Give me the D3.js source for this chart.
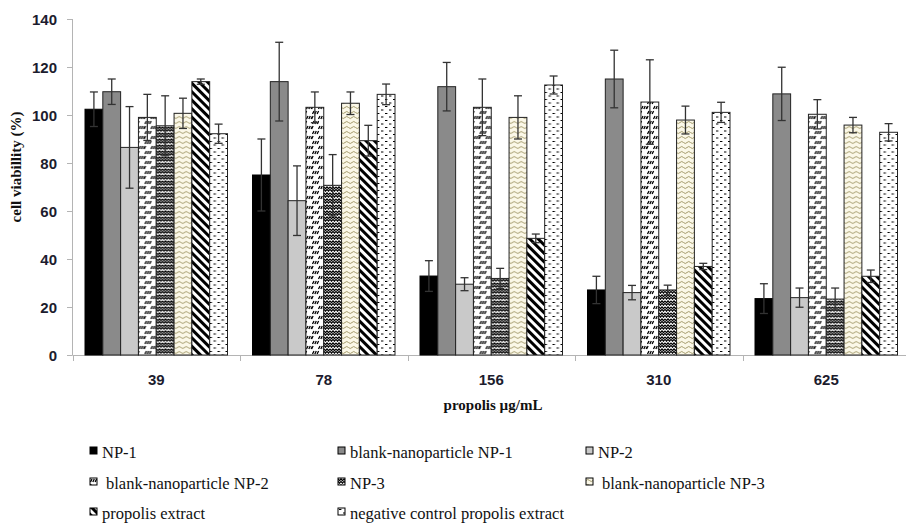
<!DOCTYPE html>
<meta charset="utf-8">
<style>
body { margin: 0; background: #fff; }
svg { display: block; }
.ytick { font: bold 15px "Liberation Sans", Arial, sans-serif; fill: #1c1c2e; }
.xtick { font: bold 15px "Liberation Sans", Arial, sans-serif; fill: #1c1c2e; }
.title { font: bold 15px "Liberation Serif", "Times New Roman", serif; fill: #111; }
.legend { font: 16.5px "Liberation Serif", "Times New Roman", serif; fill: #111; }
</style>
<body>
<script src="https://d3js.org/d3.v7.min.js"></script>
<script>
// doses on the x axis
var doses = ["39", "78", "156", "310", "625"];
var seriesNames = ["NP-1", "blank-nanoparticle NP-1", "NP-2", "blank-nanoparticle NP-2",
                   "NP-3", "blank-nanoparticle NP-3", "propolis extract", "negative control propolis extract"];

// mean cell viability (%) per series, one value per dose
var np1      = [102.4, 75.0, 32.9, 27.1, 23.5];
var blankNp1 = [109.7, 113.9, 111.8, 115.0, 108.8];
var np2      = [86.5, 64.3, 29.5, 26.0, 23.9];
var blankNp2 = [99.0, 103.2, 103.2, 105.4, 100.3];
var np3      = [95.5, 70.7, 31.9, 27.1, 23.3];
var blankNp3 = [100.7, 104.9, 99.0, 97.9, 95.8];
var propolis = [113.9, 89.3, 48.6, 36.9, 32.8];
var negCtrl  = [92.2, 108.6, 112.5, 101.1, 92.8];

// standard deviations
var np1Err      = [7.2, 15.0, 6.4, 5.7, 6.2];
var blankNp1Err = [5.3, 16.4, 10.1, 12.0, 11.1];
var np2Err      = [17.0, 14.5, 2.7, 3.0, 4.0];
var blankNp2Err = [9.6, 6.4, 11.8, 17.6, 6.1];
var np3Err      = [12.5, 12.8, 4.2, 2.0, 4.6];
var blankNp3Err = [6.3, 4.7, 9.0, 5.8, 3.2];
var propolisErr = [1.1, 6.4, 1.8, 1.3, 2.6];
var negCtrlErr  = [4.0, 4.3, 3.75, 4.2, 3.6];

var yTicks = [0, 20, 40, 60, 80, 100, 120, 140];

var means = [np1, blankNp1, np2, blankNp2, np3, blankNp3, propolis, negCtrl];
var errs = [np1Err, blankNp1Err, np2Err, blankNp2Err, np3Err, blankNp3Err, propolisErr, negCtrlErr];
var fills = ["#000", "#8a8a8a", "#c9c9c9", "url(#pDash)", "url(#pWeave)", "url(#pWave)", "url(#pStripe)", "url(#pDots)"];

var W = 906, H = 523;
var svg = d3.select("body").append("svg").attr("width", W).attr("height", H);

// ---- patterns ----
var defs = svg.append("defs");
function pat(id, w, h) {
  var p = defs.append("pattern").attr("id", id).attr("patternUnits", "userSpaceOnUse")
    .attr("width", w).attr("height", h);
  return p;
}
var p1 = pat("pDash", 12, 10);
p1.append("rect").attr("width", 12).attr("height", 10).attr("fill", "#fff");
p1.append("path").attr("d", "M0.5,4 L2,1 M2.8,4 L4.3,1 M5.1,4 L6.6,1 M6.5,9 L8,6 M8.8,9 L10.3,6 M11.1,9 L12.6,6 M-0.4,9 L1.1,6")
  .attr("stroke", "#000").attr("stroke-width", 1.3).attr("fill", "none");

var p2 = pat("pWeave", 6, 6);
p2.append("rect").attr("width", 6).attr("height", 6).attr("fill", "#fff");
p2.append("path").attr("d", "M0,0.8 L1.5,2.6 L3,0.8 L4.5,2.6 L6,0.8 M-1.5,5.2 L0,3.4 L1.5,5.2 L3,3.4 L4.5,5.2 L6,3.4 L7.5,5.2")
  .attr("stroke", "#000").attr("stroke-width", 1.2).attr("fill", "none");

var p3 = pat("pWave", 7, 5);
p3.append("rect").attr("width", 7).attr("height", 5).attr("fill", "#fbf8e8");
p3.append("path").attr("d", "M0,2.5 Q1.75,0.5 3.5,2.5 T7,2.5")
  .attr("stroke", "#a49a6c").attr("stroke-width", 1).attr("fill", "none");

var p4 = pat("pStripe", 6, 6).attr("patternTransform", "rotate(-45)");
p4.append("rect").attr("width", 6).attr("height", 6).attr("fill", "#fff");
p4.append("rect").attr("width", 3).attr("height", 6).attr("fill", "#000");

var p5 = pat("pDots", 8, 7);
p5.append("rect").attr("width", 8).attr("height", 7).attr("fill", "#fff");
p5.append("path").attr("d", "M1,1.5 h2.4 M5,5 h2.4")
  .attr("stroke", "#000").attr("stroke-width", 1.1).attr("fill", "none");

// ---- scales ----
var x0 = d3.scaleBand().domain(doses).range([72.5, 910]).paddingInner(0).paddingOuter(0);
var x1 = d3.scaleBand().domain(d3.range(8)).range([12.5, x0.bandwidth() - 12.5]);
var y = d3.scaleLinear().domain([0, 140]).range([355, 19]);

var axisCol = "#b4b4b4";

// y axis
svg.append("line").attr("x1", 72.5).attr("x2", 72.5).attr("y1", y(140)).attr("y2", y(0))
  .attr("stroke", axisCol);
svg.selectAll(".ytk").data(yTicks).join("line")
  .attr("x1", 67).attr("x2", 72.5).attr("y1", d => y(d) + 0.5).attr("y2", d => y(d) + 0.5)
  .attr("stroke", axisCol);
svg.selectAll(".ytick").data(yTicks).join("text").attr("class", "ytick")
  .attr("x", 57).attr("y", d => y(d) + 5.5).attr("text-anchor", "end").text(d => d);

// x axis
svg.append("line").attr("x1", 72.5).attr("x2", 910).attr("y1", 355.5).attr("y2", 355.5)
  .attr("stroke", axisCol);
svg.selectAll(".xtk").data(doses.concat(["end"])).join("line")
  .attr("x1", (d, i) => Math.round(72.5 + i * x0.bandwidth()) + 0.5)
  .attr("x2", (d, i) => Math.round(72.5 + i * x0.bandwidth()) + 0.5)
  .attr("y1", 355.5).attr("y2", 361).attr("stroke", axisCol);
svg.selectAll(".xtick").data(doses).join("text").attr("class", "xtick")
  .attr("x", d => x0(d) + x0.bandwidth() / 2).attr("y", 385).attr("text-anchor", "middle").text(d => d);

// titles
svg.append("text").attr("class", "title").attr("text-anchor", "middle")
  .attr("transform", "translate(21,167) rotate(-90)").text("cell viabillity (%)");
svg.append("text").attr("class", "title").attr("text-anchor", "middle")
  .attr("x", 493).attr("y", 410).text("propolis µg/mL");

// ---- bars ----
var groups = svg.selectAll(".grp").data(doses).join("g")
  .attr("transform", d => "translate(" + x0(d) + ",0)");

groups.each(function(dose, di) {
  var g = d3.select(this);
  means.forEach(function(s, si) {
    var bx = x1(si), bw = x1.bandwidth();
    g.append("rect").attr("x", bx).attr("y", y(s[di])).attr("width", bw).attr("height", y(0) - y(s[di]))
      .attr("fill", fills[si]).attr("stroke", si === 0 ? "#000" : "#222").attr("stroke-width", 1);
    var cx = bx + bw / 2, e = errs[si][di];
    var eb = g.append("g").attr("stroke", "#333").attr("stroke-width", 1.3);
    eb.append("line").attr("x1", cx).attr("x2", cx).attr("y1", y(s[di] + e)).attr("y2", y(s[di] - e));
    eb.append("line").attr("x1", cx - 4).attr("x2", cx + 4).attr("y1", y(s[di] + e)).attr("y2", y(s[di] + e));
    eb.append("line").attr("x1", cx - 4).attr("x2", cx + 4).attr("y1", y(s[di] - e)).attr("y2", y(s[di] - e));
  });
});

// ---- legend ----
var legCols = [90, 338, 586], legRows = [447, 478, 508];
var leg = svg.selectAll(".leg").data(seriesNames).join("g")
  .attr("transform", (d, i) => "translate(" + legCols[i % 3] + "," + legRows[Math.floor(i / 3)] + ")");
leg.append("rect").attr("width", 7).attr("height", 7).attr("fill", (d, i) => fills[i])
  .attr("stroke", "#000").attr("stroke-width", 1);
leg.append("text").attr("class", "legend")
  .attr("x", (d, i) => (i === 3 || i === 5) ? 16 : 12).attr("y", 11).text(d => d);
</script>
</body>
